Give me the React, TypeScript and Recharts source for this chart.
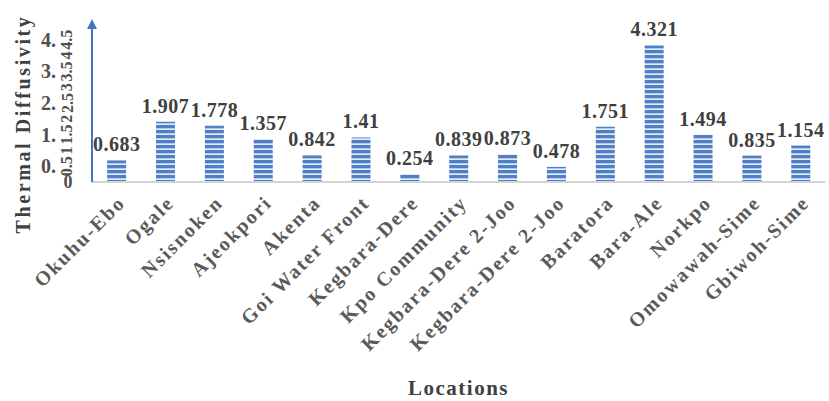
import { BarChart, Bar, XAxis, YAxis, LabelList, Label } from "recharts"

// Thermal diffusivity per sampling location
const locations = [
  "Okuhu-Ebo",
  "Ogale",
  "Nsisnoken",
  "Ajeokpori",
  "Akenta",
  "Goi Water Front",
  "Kegbara-Dere",
  "Kpo Community",
  "Kegbara-Dere 2-Joo",
  "Kegbara-Dere 2-Joo ",
  "Baratora",
  "Bara-Ale",
  "Norkpo",
  "Omowawah-Sime",
  "Gbiwoh-Sime",
]

const diffusivity = [
  0.683, 1.907, 1.778, 1.357, 0.842, 1.41, 0.254, 0.839, 0.873, 0.478, 1.751,
  4.321, 1.494, 0.835, 1.154,
]

const yTicks = [0, 0.5, 1, 1.5, 2, 2.5, 3, 3.5, 4, 4.5]

const data = locations.map((name, i) => ({ name, value: diffusivity[i] }))

const FONT = "'Liberation Serif', 'Times New Roman', serif"

function YTick({ y, payload }: any) {
  const v: number = payload.value
  if (v === 0) {
    return (
      <text x={68} y={y + 6} textAnchor="middle" fontFamily={FONT} fontWeight={700} fontSize={18} fill="#505050">
        0
      </text>
    )
  }
  const half = v % 1 !== 0
  return (
    <g>
      {half && (
        <text x={56} y={y + 7} textAnchor="end" fontFamily={FONT} fontWeight={700} fontSize={20} fill="#505050">
          {`${Math.floor(v)}.`}
        </text>
      )}
      <text
        x={67}
        y={y}
        transform={`rotate(-90 67 ${y})`}
        textAnchor="middle"
        dominantBaseline="central"
        fontFamily={FONT}
        fontWeight={700}
        fontSize={16}
        fill="#505050"
      >
        {String(v)}
      </text>
    </g>
  )
}

function XTick({ x, y, payload }: any) {
  const ax = x + 10
  const ay = y + 14
  return (
    <text
      x={ax}
      y={ay}
      transform={`rotate(-45 ${ax} ${ay})`}
      textAnchor="end"
      fontFamily={FONT}
      fontWeight={700}
      fontSize={20}
      letterSpacing={2}
      fill="#5a5a5a"
    >
      {payload.value}
    </text>
  )
}

function YTitle() {
  return (
    <text
      x={30}
      y={124}
      transform="rotate(-90 30 124)"
      textAnchor="middle"
      fontFamily={FONT}
      fontWeight={700}
      fontSize={20}
      letterSpacing={2.6}
      fill="#404040"
    >
      Thermal Diffusivity
    </text>
  )
}

export default function App() {
  return (
    <div style={{ position: "fixed", left: 0, top: 0, width: 829, height: 401, background: "#fff" }}>
      <BarChart
        width={829}
        height={401}
        data={data}
        margin={{ top: 24, right: 4, left: 0, bottom: 10 }}
        barCategoryGap="31%"
      >
        <defs>
          <pattern id="stripes" width="8" height="5" patternUnits="userSpaceOnUse">
            <rect width="8" height="5" fill="#4f7fc6" />
            <rect y="3.3" width="8" height="1.7" fill="#e2eaf6" />
          </pattern>
          <marker id="arrowUp" markerWidth="10" markerHeight="10" refX="5" refY="5" orient="auto-start-reverse" markerUnits="userSpaceOnUse">
            <path d="M0,0 L10,5 L0,10 Z" fill="#4472c4" />
          </marker>
        </defs>
        <XAxis
          dataKey="name"
          interval={0}
          height={209}
          tick={<XTick />}
          tickLine={false}
          axisLine={{ stroke: "#d4d4d4", strokeWidth: 2 }}
        >
          <Label
            value="Locations"
            position="insideBottom"
            offset={-4}
            style={{ fontFamily: FONT, fontWeight: 700, fontSize: 21, letterSpacing: 1.5, fill: "#404040" }}
          />
        </XAxis>
        <YAxis
          width={92}
          domain={[0, 5]}
          ticks={yTicks}
          interval={0}
          tick={<YTick />}
          tickLine={false}
          axisLine={{ stroke: "#4472c4", strokeWidth: 2, markerStart: "url(#arrowUp)" } as any}
        >
          <Label content={<YTitle />} />
        </YAxis>
        <Bar dataKey="value" fill="url(#stripes)" isAnimationActive={false}>
          <LabelList
            dataKey="value"
            position="top"
            offset={9}
            style={{ fontFamily: FONT, fontWeight: 700, fontSize: 20, letterSpacing: 0.5, fill: "#404040" }}
          />
        </Bar>
      </BarChart>
    </div>
  )
}
